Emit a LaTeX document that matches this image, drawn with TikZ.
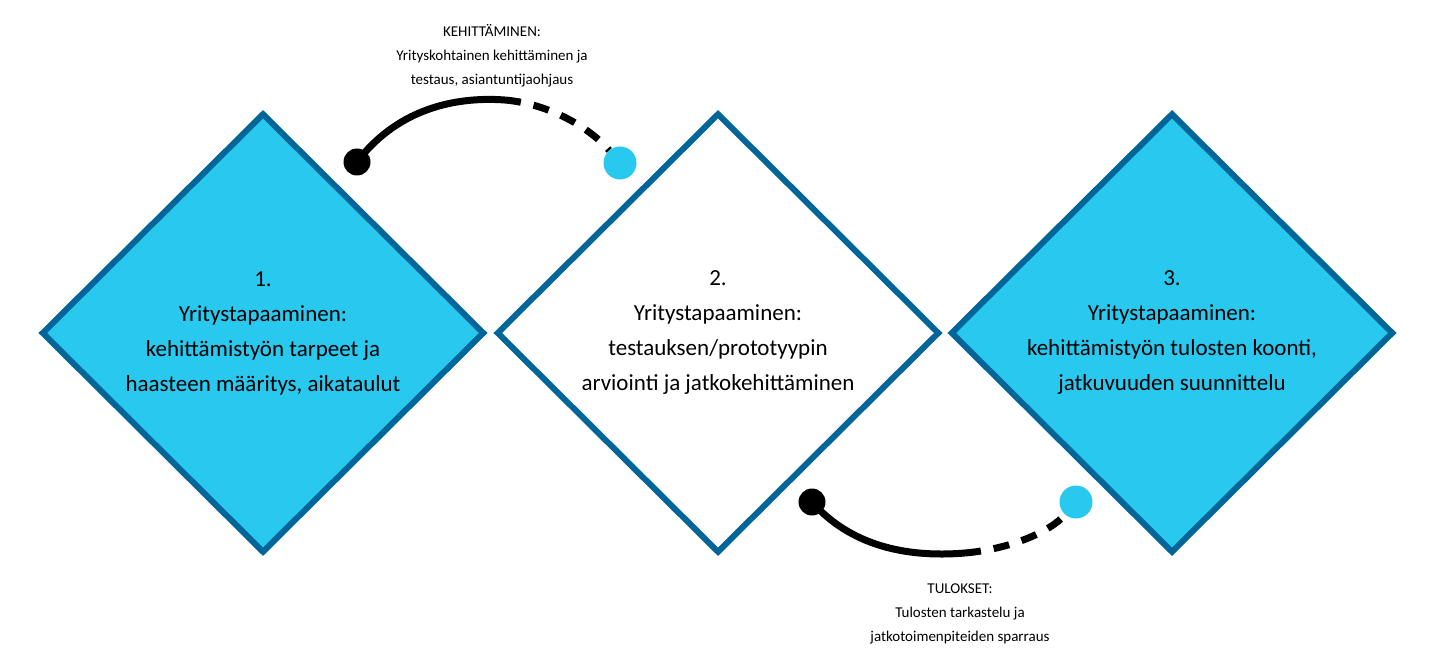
\documentclass[tikz,border=0pt]{standalone}
\usepackage{fontspec}
\setmainfont{Carlito}
\usetikzlibrary{shapes.geometric}
\definecolor{fillblue}{HTML}{29C9EF}
\definecolor{edgeblue}{HTML}{006699}
\tikzset{
	phase/.style={diamond,draw=edgeblue,line width=6pt,minimum width=443pt,minimum height=440pt,inner sep=0pt,align=center,font=\fontsize{23}{35}\selectfont},
	startdot/.style={circle,fill=black,minimum size=27pt,inner sep=0pt},
	enddot/.style={circle,fill=fillblue,minimum size=33pt,inner sep=0pt},
	note/.style={align=center,font=\fontsize{15}{24}\selectfont}
}
\begin{document}
\begin{tikzpicture}[x=1pt,y=-1pt]
		\useasboundingbox (0,0) rectangle (1441,663);
		
		\node[phase,fill=fillblue] (P1) at (263,333) {1.\\Yritystapaaminen:\\kehittämistyön tarpeet ja\\haasteen määritys, aikataulut};
		\node[phase,fill=white] (P2) at (718,333) {2.\\Yritystapaaminen:\\testauksen/prototyypin\\arviointi ja jatkokehittäminen};
		\node[phase,fill=fillblue] (P3) at (1172,333) {3.\\Yritystapaaminen:\\kehittämistyön tulosten koonti,\\jatkuvuuden suunnittelu};
		
		\node[startdot] (A1) at (357,162) {};
		\node[enddot] (A2) at (620,163) {};
		\coordinate (AM) at (505,100);
		\draw[line width=7pt] (A1.center) .. controls (395,112) and (450,96) .. (AM);
		\draw[line width=7pt,dash pattern=on 16pt off 13pt] (AM) .. controls (550,104) and (590,128) .. (A2);
		
		\node[startdot] (B1) at (812,502) {};
		\node[enddot] (B2) at (1076,502) {};
		\coordinate (BM) at (965,553);
		\draw[line width=7pt] (B1.center) .. controls (850,545) and (905,558) .. (BM);
		\draw[line width=7pt,dash pattern=on 16pt off 13pt] (BM) .. controls (1010,549) and (1050,532) .. (B2);
		
		\node[note] (top) at (492,56) {KEHITTÄMINEN:\\Yrityskohtainen kehittäminen ja\\testaus, asiantuntijaohjaus};
		\node[note] (bottom) at (960,614) {TULOKSET:\\Tulosten tarkastelu ja\\jatkotoimenpiteiden sparraus};
		
	\end{tikzpicture}
\end{document}
